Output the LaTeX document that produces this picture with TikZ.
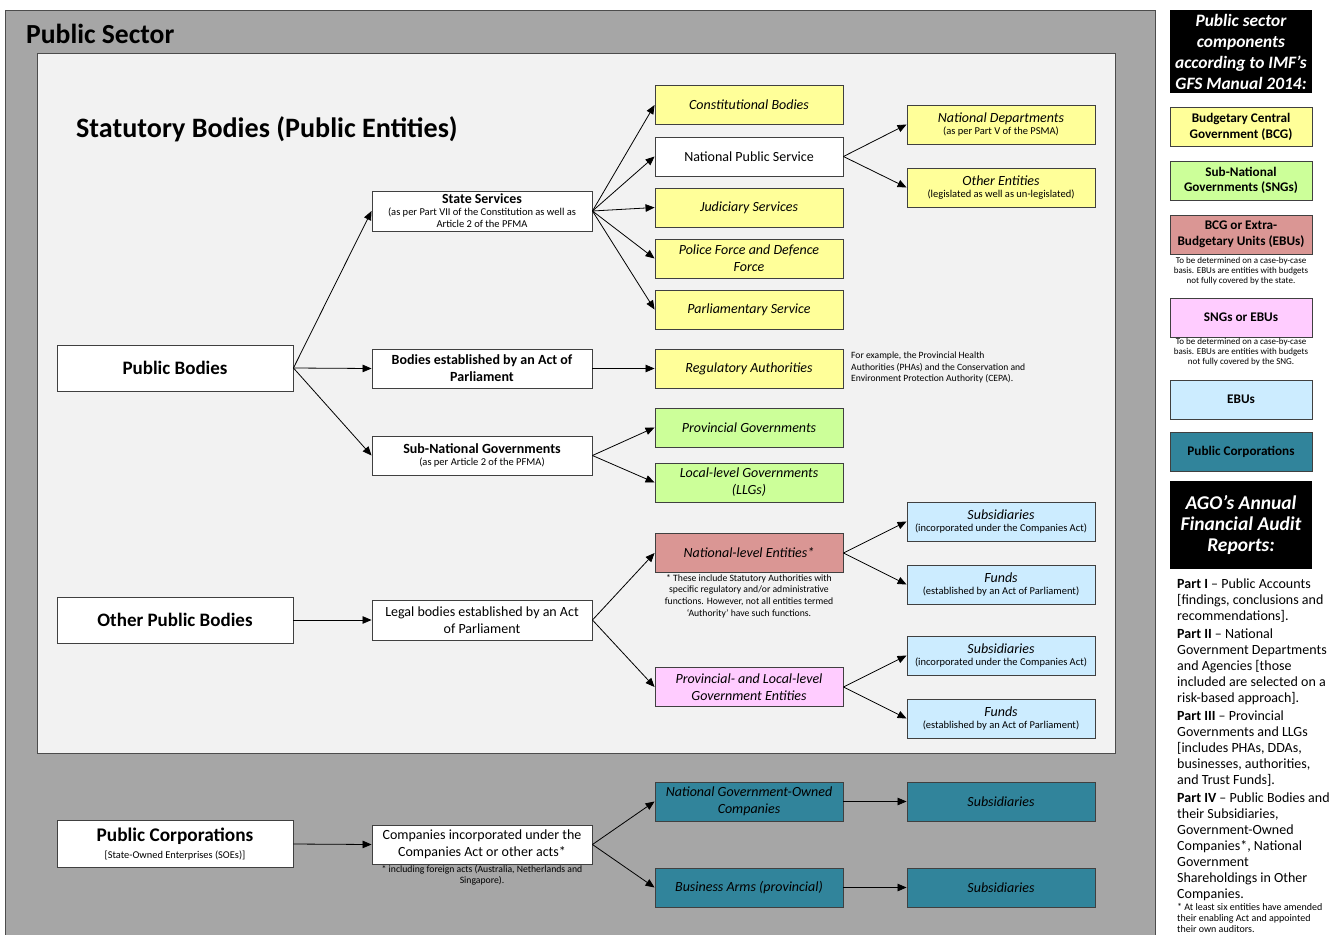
\documentclass[tikz,border=0pt]{standalone}
\usepackage{fontspec}
\setmainfont{Carlito}
\usetikzlibrary{arrows.meta}
\definecolor{outergray}{HTML}{A6A6A6}
\definecolor{innergray}{HTML}{F2F2F2}
\definecolor{cyel}{HTML}{FFFF99}
\definecolor{cgrn}{HTML}{CCFF99}
\definecolor{cred}{HTML}{DA9694}
\definecolor{cpnk}{HTML}{FFCCFF}
\definecolor{cblu}{HTML}{CCECFF}
\definecolor{cteal}{HTML}{31849B}
\newcommand\fs[2]{\fontsize{#1}{#2}\selectfont}
\begin{document}
\begin{tikzpicture}[x=1pt,y=-1pt,
  box/.style={draw=black!75,line width=0.9pt,inner sep=0pt,align=center,fill=white},
  sz/.style 2 args={minimum width=#1,minimum height=#2},
  colbox/.style={box,sz={188}{39}},
  lgbox/.style={box,sz={142}{39},font=\fs{13.2}{15.5}\bfseries},
  blackbox/.style={fill=black,inner sep=0pt,align=center,text=white,minimum width=142,font=\fs{17.4}{21}\bfseries\itshape},
  arr/.style={-{Triangle[length=9pt,width=7.5pt]},line width=0.8pt},
  it/.style={font=\fs{14}{17}\itshape},
  note/.style={align=center,inner sep=0pt}
]
\useasboundingbox (0,0) rectangle (1332,934);
% backgrounds
\draw[fill=outergray,draw=black!70,line width=0.9pt] (5,10) rectangle (1155,940);
\draw[fill=innergray,draw=black!70,line width=0.9pt] (37,53) rectangle (1115,753);
\node[anchor=base west,inner sep=0pt,font=\fs{27.6}{30}\bfseries] (tps) at (26,44) {Public Sector};
\node[anchor=base west,inner sep=0pt,font=\fs{28.1}{32}\bfseries] (tsb) at (76,137) {Statutory Bodies (Public Entities)};

% level 0
\node[box,sz={236}{46},font=\fs{19}{22}\bfseries] (pb) at (175,368) {Public Bodies};
\node[box,sz={236}{46},font=\fs{19}{22}\bfseries] (opb) at (175,620) {Other Public Bodies};
\node[box,sz={236}{47}] (pc) at (175,844) {{\fs{19.3}{21}\bfseries Public Corporations}\\[5pt]{\fs{10.4}{12}[State-Owned Enterprises (SOEs)]}};

% level 1
\node[box,sz={220}{40}] (ss) at (482,211) {{\fs{13.9}{13}\bfseries State Services}\\{\fs{10.5}{13}(as per Part VII of the Constitution as well as}\\{\fs{10.5}{13}Article 2 of the PFMA}};
\node[box,sz={220}{39},font=\fs{14}{17}\bfseries] (bea) at (482,368.5) {Bodies established by an Act of\\Parliament};
\node[box,sz={220}{39}] (sng) at (482,455.5) {{\fs{14}{14}\bfseries Sub-National Governments}\\{\fs{10.5}{14}(as per Article 2 of the PFMA)}};
\node[box,sz={220}{40},font=\fs{14}{17}] (lb) at (482,620) {Legal bodies established by an Act\\of Parliament};
\node[box,sz={220}{39},font=\fs{14}{17}] (cia) at (482,844.5) {Companies incorporated under the\\Companies Act or other acts*};

% level 2
\node[colbox,fill=cyel,it] (cb) at (749,105) {Constitutional Bodies};
\node[colbox,font=\fs{14}{17}] (nps) at (749,156.5) {National Public Service};
\node[colbox,fill=cyel,it] (js) at (749,207.5) {Judiciary Services};
\node[colbox,fill=cyel,it] (pf) at (749,258.5) {Police Force and Defence\\Force};
\node[colbox,fill=cyel,it] (ps) at (749,309.5) {Parliamentary Service};
\node[colbox,fill=cyel,it] (ra) at (749,368.5) {Regulatory Authorities};
\node[colbox,fill=cgrn,it] (pg) at (749,427.5) {Provincial Governments};
\node[colbox,fill=cgrn,it] (llg) at (749,482.5) {Local-level Governments\\(LLGs)};
\node[colbox,fill=cred,it] (nle) at (749,553) {National-level Entities*};
\node[colbox,fill=cpnk,it] (plg) at (749,687) {Provincial- and Local-level\\Government Entities};
\node[colbox,fill=cteal,it] (ngoc) at (749,801.5) {National Government-Owned\\Companies};
\node[colbox,fill=cteal,it] (ba) at (749,887.5) {Business Arms (provincial)};

% level 3
\node[colbox,fill=cyel] (nd) at (1001,124.5) {{\fs{14}{14}\itshape National Departments}\\{\fs{10.5}{15}(as per Part V of the PSMA)}};
\node[colbox,fill=cyel] (oe) at (1001,187.5) {{\fs{14}{14}\itshape Other Entities}\\{\fs{10.5}{15}(legislated as well as un-legislated)}};
\node[colbox,fill=cblu] (sub1) at (1001,521.5) {{\fs{14}{14}\itshape Subsidiaries}\\{\fs{10.5}{15}(incorporated under the Companies Act)}};
\node[colbox,fill=cblu] (fd1) at (1001,584.5) {{\fs{14}{14}\itshape Funds}\\{\fs{10.5}{15}(established by an Act of Parliament)}};
\node[colbox,fill=cblu] (sub2) at (1001,655.5) {{\fs{14}{14}\itshape Subsidiaries}\\{\fs{10.5}{15}(incorporated under the Companies Act)}};
\node[colbox,fill=cblu] (fd2) at (1001,718.5) {{\fs{14}{14}\itshape Funds}\\{\fs{10.5}{15}(established by an Act of Parliament)}};
\node[colbox,fill=cteal,it] (s3) at (1001,801.5) {Subsidiaries};
\node[colbox,fill=cteal,it] (s4) at (1001,887.5) {Subsidiaries};

% notes
\node[anchor=north west,align=left,inner sep=0pt,font=\fs{9.6}{11.5}] (rnote) at (851,352) {For example, the Provincial Health\\Authorities (PHAs) and the Conservation and\\Environment Protection Authority (CEPA).};
\node[anchor=north,note,font=\fs{9.7}{11.7}] (nnote) at (749,574) {* These include Statutory Authorities with\\specific regulatory and/or administrative\\functions. However, not all entities termed\\‘Authority’ have such functions.};
\node[anchor=north,note,font=\fs{9.7}{11.5}] (cnote) at (482,865) {* including foreign acts (Australia, Netherlands and\\Singapore).};

% arrows
\draw[arr] (pb.east) -- (ss.west);
\draw[arr] (pb.east) -- (bea.west);
\draw[arr] (pb.east) -- (sng.west);
\foreach \t in {cb,nps,js,pf,ps} \draw[arr] (ss.east) -- (\t.west);
\draw[arr] (nps.east) -- (nd.west);
\draw[arr] (nps.east) -- (oe.west);
\draw[arr] (bea.east) -- (ra.west);
\draw[arr] (sng.east) -- (pg.west);
\draw[arr] (sng.east) -- (llg.west);
\draw[arr] (opb.east) -- (lb.west);
\draw[arr] (lb.east) -- (nle.west);
\draw[arr] (lb.east) -- (plg.west);
\draw[arr] (nle.east) -- (sub1.west);
\draw[arr] (nle.east) -- (fd1.west);
\draw[arr] (plg.east) -- (sub2.west);
\draw[arr] (plg.east) -- (fd2.west);
\draw[arr] (pc.east) -- (cia.west);
\draw[arr] (cia.east) -- (ngoc.west);
\draw[arr] (cia.east) -- (ba.west);
\draw[arr] (ngoc.east) -- (s3.west);
\draw[arr] (ba.east) -- (s4.west);

% legend
\node[blackbox,minimum height=83] (lt) at (1241,51.5) {Public sector\\components\\according to IMF’s\\GFS Manual 2014:};
\node[lgbox,fill=cyel] (lbcg) at (1241,127) {Budgetary Central\\Government (BCG)};
\node[lgbox,fill=cgrn] (lsng) at (1241,180.5) {Sub-National\\Governments (SNGs)};
\node[lgbox,fill=cred] (lebu) at (1241,234.5) {BCG or Extra-\\Budgetary Units (EBUs)};
\node[anchor=north,note,font=\fs{9}{10}] (lebun) at (1241,257) {To be determined on a case-by-case\\basis. EBUs are entities with budgets\\not fully covered by the state.};
\node[lgbox,fill=cpnk] (lsnge) at (1241,317.5) {SNGs or EBUs};
\node[anchor=north,note,font=\fs{9}{10}] (lsngn) at (1241,338) {To be determined on a case-by-case\\basis. EBUs are entities with budgets\\not fully covered by the SNG.};
\node[lgbox,fill=cblu] (lebus) at (1241,399.5) {EBUs};
\node[lgbox,fill=cteal] (lpc) at (1241,451.5) {Public Corporations};
\node[blackbox,minimum height=88,font=\fs{19.5}{21}\bfseries\itshape] (ago) at (1241,525) {AGO’s Annual\\Financial Audit\\Reports:};
\node[anchor=north west,align=left,inner sep=0pt,font=\fs{14}{16}] (agot) at (1177,579) {\textbf{Part I} – Public Accounts\\{}[findings, conclusions and\\recommendations].\\[1.5pt]
\textbf{Part II} – National\\Government Departments\\and Agencies [those\\included are selected on a\\risk-based approach].\\[2pt]
\textbf{Part III} – Provincial\\Governments and LLGs\\{}[includes PHAs, DDAs,\\businesses, authorities,\\and Trust Funds].\\[2.5pt]
\textbf{Part IV} – Public Bodies and\\their Subsidiaries,\\Government-Owned\\Companies*, National\\Government\\Shareholdings in Other\\Companies.};
\node[anchor=north west,align=left,inner sep=0pt,font=\fs{10}{11}] (agof) at (1177,903) {* At least six entities have amended\\their enabling Act and appointed\\their own auditors.};
\end{tikzpicture}
\end{document}
